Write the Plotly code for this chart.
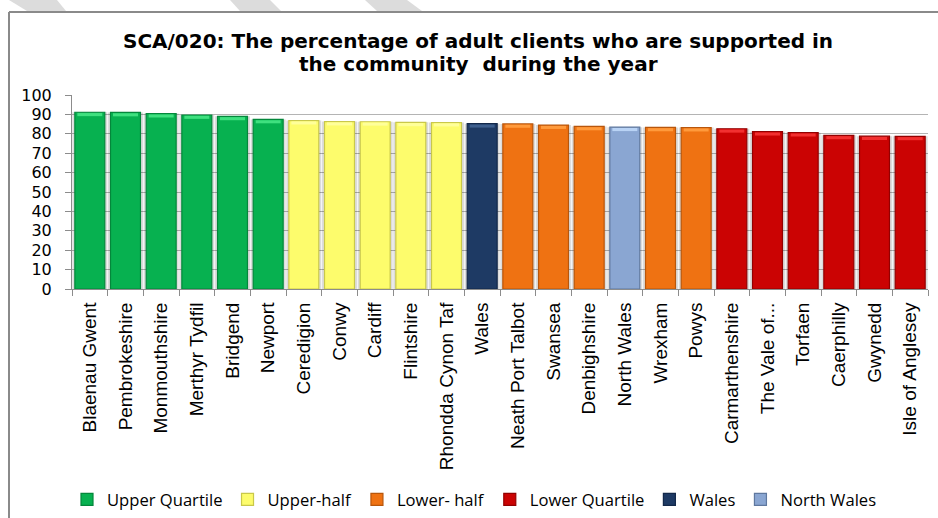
import plotly.graph_objects as go

# Local authority results, sorted high to low
areas = [
    "Blaenau Gwent", "Pembrokeshire", "Monmouthshire", "Merthyr Tydfil", "Bridgend",
    "Newport", "Ceredigion", "Conwy", "Cardiff", "Flintshire", "Rhondda Cynon Taf",
    "Wales", "Neath Port Talbot", "Swansea", "Denbighshire", "North Wales", "Wrexham",
    "Powys", "Carmarthenshire", "The Vale of...", "Torfaen", "Caerphilly", "Gwynedd",
    "Isle of Anglesey",
]
percent = [
    91.1, 91.0, 90.4, 89.7, 89.0,
    87.4, 86.8, 86.3, 86.2, 85.9, 85.8,
    85.2, 85.1, 84.5, 83.8, 83.4, 83.3,
    83.2, 82.6, 81.1, 80.6, 79.2, 78.8,
    78.7,
]
band = [
    "Upper Quartile", "Upper Quartile", "Upper Quartile", "Upper Quartile", "Upper Quartile",
    "Upper Quartile", "Upper-half", "Upper-half", "Upper-half", "Upper-half", "Upper-half",
    "Wales", "Lower- half", "Lower- half", "Lower- half", "North Wales", "Lower- half",
    "Lower- half", "Lower Quartile", "Lower Quartile", "Lower Quartile", "Lower Quartile",
    "Lower Quartile", "Lower Quartile",
]
band_order = ["Upper Quartile", "Upper-half", "Lower- half", "Lower Quartile", "Wales", "North Wales"]
band_fill = {
    "Upper Quartile": "#07b150",
    "Upper-half": "#fdfc6c",
    "Lower- half": "#ef7212",
    "Lower Quartile": "#cb0303",
    "Wales": "#1e3a64",
    "North Wales": "#8aa6d2",
}
band_edge = {
    "Upper Quartile": "#04873b",
    "Upper-half": "#c9c84a",
    "Lower- half": "#b8560b",
    "Lower Quartile": "#930000",
    "Wales": "#13284a",
    "North Wales": "#5f789f",
}
band_top = {
    "Upper Quartile": "#3fe07f",
    "Upper-half": "#ffff9a",
    "Lower- half": "#ff9a3c",
    "Lower Quartile": "#f23030",
    "Wales": "#3e5f8e",
    "North Wales": "#b9d3f5",
}

W, H = 938, 518
ML, MR, MT, MB = 72, 10, 95, 229
PW, PH = W - ML - MR, H - MT - MB


def px_x(x):
    return (x - ML) / PW


def px_y(y):
    return (H - MB - y) / PH


fig = go.Figure()

# soft drop shadow behind every column
fig.add_trace(go.Bar(
    x=areas, y=percent, width=0.98, showlegend=False, hoverinfo="skip",
    marker=dict(color="rgba(0,0,0,0.14)", line=dict(width=0)),
))

for name in band_order:
    xs = [a for a, b in zip(areas, band) if b == name]
    ys = [v for v, b in zip(percent, band) if b == name]
    fig.add_trace(go.Bar(
        x=xs, y=ys, name=name, width=0.84,
        marker=dict(color=band_fill[name], line=dict(color=band_edge[name], width=1.2)),
    ))
    # bevelled highlight along the top of each column
    fig.add_trace(go.Bar(
        x=xs, y=[1.6] * len(ys), base=[v - 2.0 for v in ys], width=0.7,
        showlegend=False, hoverinfo="skip",
        marker=dict(color=band_top[name], line=dict(width=0)),
    ))

# decorative page stripes and the chart frame
stripes = [
    [(9, 0), (57, 0), (66, 11), (27, 11)],
    [(230, 0), (270, 0), (281, 11), (240, 11)],
    [(365, 0), (407, 0), (422, 11), (377, 11)],
]
shapes = []
for pts in stripes:
    path = "M " + " L ".join(f"{px_x(x):.5f},{px_y(y):.5f}" for x, y in pts) + " Z"
    shapes.append(dict(type="path", xref="paper", yref="paper", path=path,
                       fillcolor="#dcdcdc", line=dict(width=0), layer="below"))
shapes.append(dict(type="line", xref="paper", yref="paper",
                   x0=px_x(9), x1=px_x(940), y0=px_y(12), y1=px_y(12),
                   line=dict(color="#8a8a8a", width=2)))
shapes.append(dict(type="line", xref="paper", yref="paper",
                   x0=px_x(9), x1=px_x(9), y0=px_y(12), y1=px_y(520),
                   line=dict(color="#8a8a8a", width=2)))

title_font = dict(family="DejaVu Sans, sans-serif", size=20, color="#000000")
annotations = [
    dict(text="<b>SCA/020: The percentage of adult clients who are supported in</b>",
         xref="paper", yref="paper", x=px_x(478), y=px_y(41), showarrow=False,
         xanchor="center", yanchor="middle", font=title_font),
    dict(text="<b>the community  during the year</b>",
         xref="paper", yref="paper", x=px_x(478), y=px_y(64), showarrow=False,
         xanchor="center", yanchor="middle", font=title_font),
]

fig.update_layout(
    width=W, height=H,
    margin=dict(l=ML, r=MR, t=MT, b=MB, pad=0, autoexpand=False),
    paper_bgcolor="#ffffff", plot_bgcolor="#ffffff",
    barmode="overlay",
    shapes=shapes,
    annotations=annotations,
    font=dict(family="Liberation Sans, Arial, sans-serif", color="#000000"),
    legend=dict(
        orientation="h", x=px_x(67), y=px_y(517), xanchor="left", yanchor="bottom",
        font=dict(family="Open Sans, sans-serif", size=16.6, color="#000000"),
        itemwidth=30, tracegroupgap=0, bgcolor="rgba(0,0,0,0)",
    ),
    xaxis=dict(
        categoryorder="array", categoryarray=areas,
        tickangle=-90, tickfont=dict(size=19), ticks="outside", ticklen=6,
        ticklabelstandoff=5,
        tickcolor="#8c8c8c", tickson="boundaries", showgrid=False,
        showline=True, linecolor="#8c8c8c", linewidth=1, range=[-0.5, len(areas) - 0.5],
    ),
    yaxis=dict(
        range=[0, 100], dtick=10, ticks="outside", ticklen=6,
        tickfont=dict(family="DejaVu Sans, sans-serif", size=16),
        ticklabelstandoff=10,
        tickcolor="#8c8c8c", showgrid=True, gridcolor="#b4b4b4", gridwidth=1,
        showline=True, linecolor="#8c8c8c", linewidth=1, zeroline=False,
    ),
)

fig.write_html("out.html")
